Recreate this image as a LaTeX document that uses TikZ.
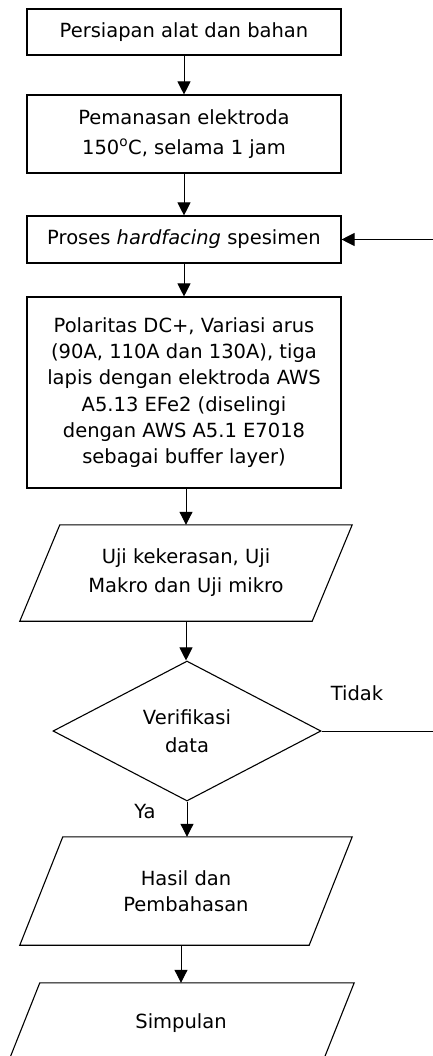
\documentclass[tikz,border=0pt]{standalone}
\usepackage{fontspec}
\setmainfont{DejaVu Sans}
\usetikzlibrary{arrows.meta,shapes.geometric}
\begin{document}
\begin{tikzpicture}[x=1pt,y=-1pt,
  every node/.style={font=\fontsize{19.5}{26.3}\selectfont, align=center, inner sep=0pt},
  procbox/.style={draw, line width=1.1pt, minimum width=314pt},
  paranode/.style={minimum height=#1},
  dec/.style={draw, diamond, line width=1.1pt, minimum width=268pt, minimum height=140pt, shape aspect=1.9},
  flow/.style={line width=1pt, -{Triangle[length=13pt,width=13pt]}},
  paraline/.style={line width=1.1pt, line join=miter}]
\useasboundingbox (0,0) rectangle (433,1056);

\node[procbox, minimum height=46pt] (b1) at (184,32) {Persiapan alat dan bahan};
\node[procbox, minimum height=78pt] (b2) at (184,134) {Pemanasan elektroda\\[3.5pt]150\textsuperscript{o}C, selama 1 jam};
\node[procbox, minimum height=47pt] (b3) at (184,239.5) {Proses \textit{hardfacing} spesimen};
\node[procbox, minimum height=191pt] (b4) at (184,392.5) {Polaritas DC+, Variasi arus\\(90A, 110A dan 130A), tiga\\lapis dengan elektroda AWS\\A5.13 EFe2 (diselingi\\dengan AWS A5.1 E7018\\sebagai buffer layer)};

\node[paranode=98pt, minimum width=252pt] (p1) at (186,573) {Uji kekerasan, Uji\\[2.5pt]Makro dan Uji mikro};
\draw[paraline] ([yshift=-1pt]p1.north west) -- ([xshift=40pt,yshift=-1pt]p1.north east) -- ([yshift=1pt]p1.south east) -- ([xshift=-40pt,yshift=1pt]p1.south west) -- cycle;

\node[dec] (d) at (187,731) {Verifikasi\\[1.5pt]data};

\node[paranode=110pt, minimum width=246pt] (p2) at (186,891) {Hasil dan\\Pembahasan};
\draw[paraline] ([yshift=-1pt]p2.north west) -- ([xshift=43pt,yshift=-1pt]p2.north east) -- ([yshift=1pt]p2.south east) -- ([xshift=-43pt,yshift=1pt]p2.south west) -- cycle;

\node[paranode=80pt, minimum width=282pt] (p3) at (181,1023) {Simpulan};
\draw[paraline] (p3.north west) -- ([xshift=32pt]p3.north east) -- (p3.south east) -- ([xshift=-32pt]p3.south west) -- cycle;

\node (tidak) at (357,693) {Tidak};
\node (ya) at (145,812) {Ya};

\coordinate (fb) at (437,240);

\draw[flow] (b1) -- (b2);
\draw[flow] (b2) -- (b3);
\draw[flow] (b3) -- (b4);
\draw[flow] (b4.south -| p1.north) -- ([yshift=-1pt]p1.north);
\draw[flow] ([yshift=1pt]p1.south) -- (p1.south |- d.north);
\draw[flow] (d.south) -- ([yshift=-1pt]d.south |- p2.north);
\draw[flow] ([yshift=1pt]p3.north |- p2.south) -- (p3.north);
\draw[flow] (d.east) -- (d.east -| fb) |- (b3.east);
\end{tikzpicture}
\end{document}
